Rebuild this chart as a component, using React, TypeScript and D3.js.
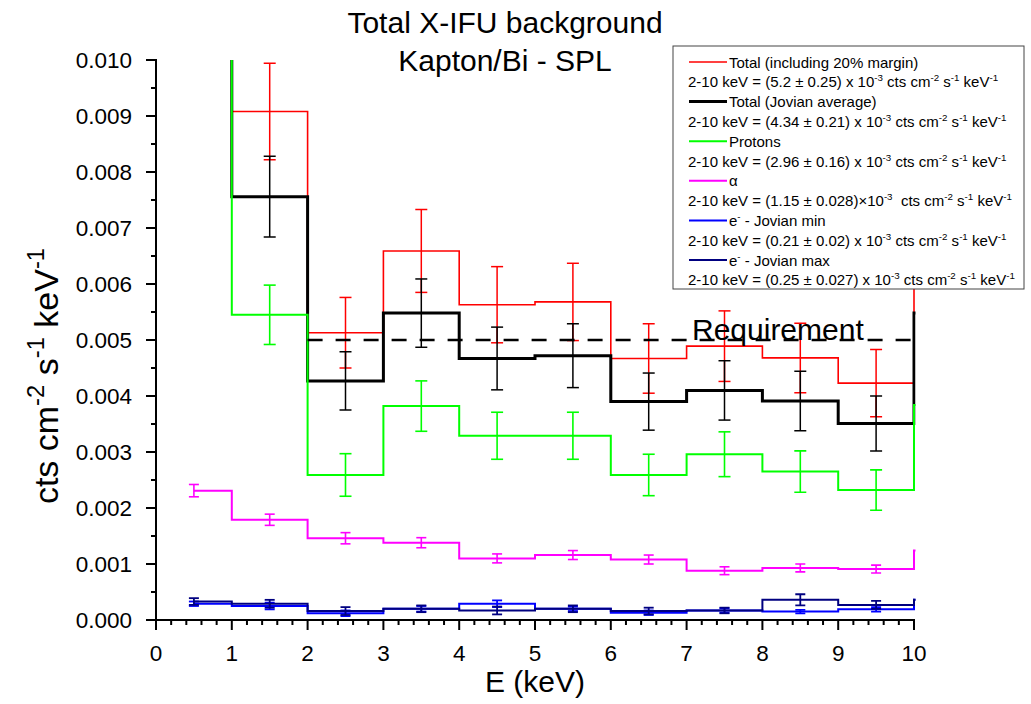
import React from 'react';
import * as d3 from 'd3';

// ---------- data (bin centres, keV) ----------
const energies = [0.5, 1.5, 2.5, 3.5, 4.5, 5.5, 6.5, 7.5, 8.5, 9.5, 10.5];

const totalMargin = [0.0162, 0.00908, 0.00513, 0.00659, 0.00563, 0.00568, 0.00467, 0.00489, 0.00468, 0.00423, 0.00658];
const totalMarginErr = [0.0012, 0.00086, 0.00063, 0.00074, 0.00068, 0.00069, 0.00062, 0.00063, 0.00062, 0.0006, 0.0007];

const totalJovian = [0.0135, 0.00756, 0.00427, 0.00548, 0.00467, 0.00472, 0.0039, 0.0041, 0.00391, 0.00351, 0.00548];
const totalJovianErr = [0.001, 0.00072, 0.00052, 0.00061, 0.00056, 0.00057, 0.00051, 0.00053, 0.00053, 0.00049, 0.00058];

const protons = [0.0108, 0.00545, 0.00259, 0.00382, 0.00329, 0.00329, 0.00259, 0.00296, 0.00265, 0.00232, 0.00384];
const protonsErr = [0.0006, 0.00053, 0.00038, 0.00045, 0.00042, 0.00042, 0.00037, 0.0004, 0.00037, 0.00036, 0.0004];

const alpha = [0.00231, 0.00179, 0.00146, 0.00138, 0.0011, 0.00116, 0.00108, 0.00088, 0.00093, 0.00091, 0.00124];
const alphaErr = [0.00011, 0.0001, 0.0001, 0.00009, 0.00008, 0.00008, 0.00008, 0.00007, 0.00007, 0.00007, 0.00008];

const electronsMin = [0.00029, 0.00025, 0.00012, 0.0002, 0.00029, 0.0002, 0.00013, 0.00017, 0.00015, 0.00019, 0.00036];
const electronsMinErr = [0.00004, 0.00006, 0.00005, 0.00005, 0.00006, 0.00004, 0.00004, 0.00004, 0.00003, 0.00004, 0.00004];

const electronsMax = [0.00033, 0.00029, 0.00016, 0.0002, 0.00017, 0.0002, 0.00016, 0.00017, 0.00036, 0.00027, 0.00036];
const electronsMaxErr = [0.00006, 0.00007, 0.00007, 0.00006, 0.00007, 0.00006, 0.00006, 0.00005, 0.0001, 0.00007, 0.00006];

const requirementLevel = 0.005;
const requirementFrom = 2;
const requirementTo = 10;

const xTicks = [0, 1, 2, 3, 4, 5, 6, 7, 8, 9, 10];
const yTicks = [0, 0.001, 0.002, 0.003, 0.004, 0.005, 0.006, 0.007, 0.008, 0.009, 0.01];

const titleLines = ['Total X-IFU background', 'Kapton/Bi - SPL'];

const legendNames = [
  'Total (including 20% margin)',
  'Total (Jovian average)',
  'Protons',
  'α',
  'e{-} - Jovian min',
  'e{-} - Jovian max',
];
const legendValues = [
  '2-10 keV = (5.2 ± 0.25) x 10{-3} cts cm{-2} s{-1} keV{-1}',
  '2-10 keV = (4.34 ± 0.21) x 10{-3} cts cm{-2} s{-1} keV{-1}',
  '2-10 keV = (2.96 ± 0.16) x 10{-3} cts cm{-2} s{-1} keV{-1}',
  '2-10 keV = (1.15 ± 0.028)×10{-3}  cts cm{-2} s{-1} keV{-1}',
  '2-10 keV = (0.21 ± 0.02) x 10{-3} cts cm{-2} s{-1} keV{-1}',
  '2-10 keV = (0.25 ± 0.027) x 10{-3} cts cm{-2} s{-1} keV{-1}',
];

// ---------- styles ----------
const FONT = '"Liberation Sans", Arial, Helvetica, sans-serif';
const series = [
  { v: totalMargin, e: totalMarginErr, color: '#ff0000', w: 1.6, ew: 1.5, cap: 12 },
  { v: totalJovian, e: totalJovianErr, color: '#000000', w: 3, ew: 1.5, cap: 12 },
  { v: protons, e: protonsErr, color: '#00ff00', w: 2, ew: 1.6, cap: 12 },
  { v: alpha, e: alphaErr, color: '#ff00ff', w: 2, ew: 1.6, cap: 10 },
  { v: electronsMin, e: electronsMinErr, color: '#0000ff', w: 2, ew: 1.8, cap: 10 },
  { v: electronsMax, e: electronsMaxErr, color: '#000080', w: 2, ew: 1.8, cap: 10 },
];

const W = 1031;
const H = 704;
const L = 156, R = 914, T = 60, B = 620;

function Rich({ x, y, text, size, anchor = 'start', color = '#000', transform, supScale = 0.65 }: any) {
  const parts = text.split(/(\{[^}]*\})/).filter((s: string) => s.length);
  const shift = size * 0.4;
  let up = false;
  const spans = parts.map((p: string, i: number) => {
    if (p.startsWith('{')) {
      const el = (
        <tspan key={i} dy={up ? 0 : -shift} fontSize={size * supScale}>
          {p.slice(1, -1)}
        </tspan>
      );
      up = true;
      return el;
    }
    const el = (
      <tspan key={i} dy={up ? shift : 0} fontSize={size}>
        {p}
      </tspan>
    );
    up = false;
    return el;
  });
  return (
    <text x={x} y={y} fontSize={size} textAnchor={anchor} fill={color} transform={transform}
      style={{ whiteSpace: 'pre' }} fontFamily={FONT}>
      {spans}
    </text>
  );
}

export default function App() {
  const x = d3.scaleLinear().domain([0, 10]).range([L, R]);
  const y = d3.scaleLinear().domain([0, 0.01]).range([B, T]);
  const line = d3
    .line<[number, number]>()
    .x((d) => x(d[0]))
    .y((d) => y(d[1]))
    .curve(d3.curveStep);

  const xMinor = d3.range(0, 10.0001, 0.2).filter((t) => Math.abs(t - Math.round(t)) > 1e-6);
  const yMinor = d3.range(0.0005, 0.01, 0.001);

  const legX = 673, legY = 46, legW = 351, legH = 243;
  const rowY = (i: number) => 62 + i * 19.8;

  return (
    <svg width={W} height={H} style={{ position: 'absolute', left: 0, top: 0, background: '#fff' }}
      fontFamily={FONT}>
      <defs>
        <clipPath id="plotClip">
          <rect x={L} y={T} width={R - L + 1.5} height={B - T} />
        </clipPath>
      </defs>
      <rect x={0} y={0} width={W} height={H} fill="#fff" />

      {/* title */}
      {titleLines.map((t, i) => (
        <text key={i} x={505} y={33 + i * 38} fontSize={30} textAnchor="middle" fill="#000">
          {t}
        </text>
      ))}

      {/* series */}
      <g clipPath="url(#plotClip)">
        {series.map((s, si) => {
          const pts = energies.map((e, i) => [e, s.v[i]] as [number, number]);
          return (
            <g key={si}>
              <path d={line(pts) || ''} fill="none" stroke={s.color} strokeWidth={s.w} />
              {energies.map((e, i) => {
                const cx = x(e);
                const y1 = y(s.v[i] + s.e[i]);
                const y2 = y(s.v[i] - s.e[i]);
                const h = s.cap / 2;
                return (
                  <g key={i} stroke={s.color} strokeWidth={s.ew}>
                    <line x1={cx} x2={cx} y1={y1} y2={y2} />
                    <line x1={cx - h} x2={cx + h} y1={y1} y2={y1} />
                    <line x1={cx - h} x2={cx + h} y1={y2} y2={y2} />
                  </g>
                );
              })}
            </g>
          );
        })}
        <line x1={x(requirementFrom)} x2={x(requirementTo)} y1={y(requirementLevel)} y2={y(requirementLevel)}
          stroke="#000" strokeWidth={2.6} strokeDasharray="15 13" />
      </g>
      <text x={692} y={340} fontSize={30} fill="#000">Requirement</text>

      {/* axes */}
      <g stroke="#000" strokeWidth={2}>
        <line x1={L} x2={L} y1={T - 1} y2={B + 1} />
        <line x1={L - 1} x2={R + 1} y1={B} y2={B} />
        {yTicks.map((t) => (
          <line key={'yt' + t} x1={L - 10} x2={L} y1={y(t)} y2={y(t)} />
        ))}
        {yMinor.map((t) => (
          <line key={'ym' + t} x1={L - 5} x2={L} y1={y(t)} y2={y(t)} />
        ))}
        {xTicks.map((t) => (
          <line key={'xt' + t} x1={x(t)} x2={x(t)} y1={B} y2={B + 10} />
        ))}
        {xMinor.map((t) => (
          <line key={'xm' + t} x1={x(t)} x2={x(t)} y1={B} y2={B + 5} />
        ))}
      </g>
      {yTicks.map((t) => (
        <text key={'yl' + t} x={132} y={y(t) + 8} fontSize={22.5} textAnchor="end" fill="#000">
          {d3.format('.3f')(t)}
        </text>
      ))}
      {xTicks.map((t) => (
        <text key={'xl' + t} x={x(t)} y={661} fontSize={22.5} textAnchor="middle" fill="#000">
          {t}
        </text>
      ))}
      <text x={(L + R) / 2} y={692} fontSize={30} textAnchor="middle" fill="#000">E (keV)</text>
      <Rich x={0} y={0} text={'cts cm{-2} s{-1} keV{-1}'} size={34} anchor="middle" supScale={0.7}
        transform={`translate(58,376) rotate(-90)`} />

      {/* legend */}
      <rect x={legX} y={legY} width={legW} height={legH} fill="#fff" stroke="#444" strokeWidth={1} />
      {legendNames.map((n, i) => {
        const s = series[i];
        const yy = rowY(i * 2);
        return (
          <g key={'lg' + i}>
            <line x1={689} x2={727} y1={yy} y2={yy} stroke={s.color} strokeWidth={s.w} />
            <Rich x={729} y={yy + 5.5} text={n} size={15} />
            <Rich x={688} y={rowY(i * 2 + 1) + 5.5} text={legendValues[i]} size={15} />
          </g>
        );
      })}
    </svg>
  );
}
